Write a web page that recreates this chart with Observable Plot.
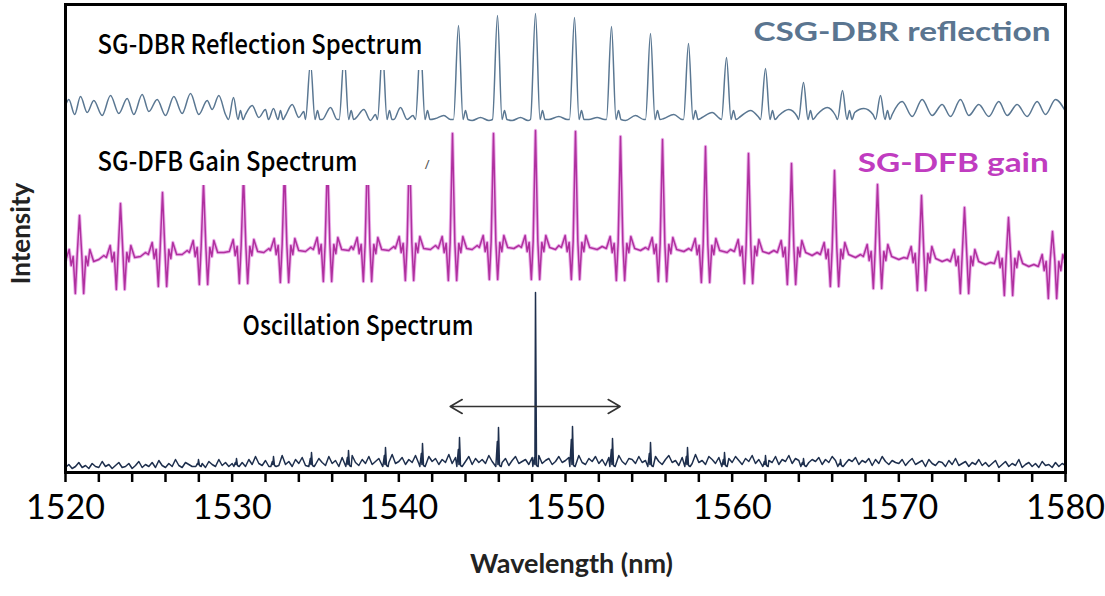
<!DOCTYPE html>
<html><head><meta charset="utf-8">
<script src="https://cdn.jsdelivr.net/npm/d3@7"></script>
<script src="https://cdn.jsdelivr.net/npm/@observablehq/plot@0.6"></script>
<style>body{margin:0;background:#fff}</style>
</head><body><div id="chart"></div>
<script>
// ---------- axis ----------
const xTickLabels = [1520, 1530, 1540, 1550, 1560, 1570, 1580];
const xMinorTicks = [1520,1522,1524,1526,1528,1530,1532,1534,1536,1538,1540,1542,1544,1546,1548,1550,1552,1554,1556,1558,1560,1562,1564,1566,1568,1570,1572,1574,1576,1578,1580];

// ---------- CSG-DBR reflection (arbitrary intensity units, offset trace) ----------
const dbrPeakNm = [1530.08,1532.48,1534.70,1536.72,1539.02,1541.30,1543.58,1545.92,1548.20,1550.54,1552.76,1555.10,1557.38,1559.66,1562.00,1564.28,1566.62,1568.90];
const dbrPeakI  = [374,363,409,416,421,426,446,456,458,454,445,438,428,414,403,389,381,376];
const dbrFoot = 352, dbrShoulder = 361;
const dbrFloorNm = [1520.0,1520.2,1520.55,1520.9,1521.3,1521.7,1522.2,1522.7,1523.2,1523.7,1524.1,1524.6,1525.0,1525.5,1526.0,1526.5,1527.0,1527.5,1528.0,1528.5,1528.8,1529.2,1529.6,
  1530.8,1531.2,1531.6,1532.0,1533.2,1533.6,1534.0,1534.3,1535.4,1535.9,1536.3,1537.4,1537.9,1538.3,1538.6,1539.7,1540.1,1540.5,1540.85,
  1542.2,1542.7,1543.1,1544.4,1544.9,1545.4,1546.8,1547.3,1547.75,1549.0,1549.6,1550.1,1551.4,1551.9,1552.35,1553.6,1554.2,1554.7,1555.9,1556.5,1557.0,
  1558.2,1558.8,1559.25,1560.5,1561.1,1561.6,1562.8,1563.4,1563.9,1565.1,1565.7,1566.2,1567.35,1567.9,1568.45,
  1569.6,1570.2,1570.8,1571.4,1572.0,1572.6,1573.1,1573.7,1574.2,1574.8,1575.4,1576.0,1576.5,1577.1,1577.7,1578.3,1578.8,1579.4,1580.0];
const dbrFloorI = [366,372,357,375,359,371,356,376,358,373,357,377,360,372,356,375,358,378,357,371,362,376,357,
  357,366,354,362,356,367,354,360,352,364,352,353,362,351,357,352,364,352,356,
  353,356,352,351,354,351,351,354,351,352,355,352,352,354,352,351,356,352,353,357,352,
  354,359,353,355,361,354,356,362,355,357,364,356,359,363,357,
  357,370,355,372,356,367,355,372,356,367,355,370,356,367,355,370,357,372,360];

// ---------- SG-DFB gain ----------
const dfbPeakNm   = [1520.84,1523.30,1525.82,1528.28,1530.68,1533.14,1535.72,1538.12,1540.64,1543.22,1545.68,1548.20,1550.60,1553.30,1555.82,1558.40,1560.98,1563.56,1566.14,1568.72,1571.36,1573.94,1576.58,1579.22];
const dfbPeakTop  = [256,268,279,289,297,305,313,321,328,338,338,341,340,335,332,325,318,308,301,287,276,264,254,240];
const dfbPeakBase = [210,214,217,219,220,221,222,222,223,223,224,224,224,223,222,221,220,219,217,215,213,210,208,205];
const dfbShapeDx = [-0.85,-0.62,-0.5,-0.38,-0.25,-0.14,0,0.14,0.25,0.38,0.5,0.62,0.85];
const dfbShapeDy = [0,12,-4,5,-32,6,null,6,-32,5,-4,12,0];
const dfbFloorNm = [1522.0,1522.3,1524.5,1524.8,1527.0,1527.3,1529.5,1529.8,1531.9,1532.2,1534.4,1534.7,1537.0,1537.15,1539.4,1539.7,1541.9,1542.2,1544.4,1544.7,1546.9,1547.2,1549.4,1549.6,1551.9,1552.2,1554.5,1554.8,1557.1,1557.4,1559.7,1559.9,1562.2,1562.5,1564.8,1565.1,1567.4,1567.7,1570.0,1570.3,1572.6,1572.9,1575.2,1575.5,1577.8,1578.1];
const dfbFloorI  = [212,216,215,219,217,221,219,222,219,223,220,224,221,225,221,225,222,226,222,226,223,226,222,226,222,225,221,224,220,223,219,222,218,221,216,219,214,217,212,214,210,212,207,209,205,207];

// ---------- Oscillation spectrum ----------
const oscPeakNm = [1527.98,1530.26,1532.48,1534.76,1536.98,1539.20,1541.42,1543.64,1545.98,1548.20,1550.42,1552.82,1555.10,1557.32,1559.54,1562.00,1564.28,1566.50];
const oscPeakI  = [12,13,15,19,21,24,28,34,44,179,45,33,29,24,19,16,13,12];
const oscShoulderI = [8,9,10,13,14,16,18,22,30,14,32,22,18,15,12,10,9,8];
const oscBase = 5;
const oscNoiseStart = 1520, oscNoiseStep = 0.2;
const oscNoiseI = [
  4,7,3,5,9,4,6,3,8,5,4,10,5,7,3,6,9,4,5,8,3,6,10,4,7,
  5,9,4,11,6,4,8,5,12,6,4,9,7,5,13,6,8,4,10,7,5,12,6,9,5,
  8,14,6,9,5,12,7,15,8,6,11,5,13,9,6,16,7,10,5,12,8,14,6,9,11,
  7,13,9,6,15,8,11,5,14,10,7,16,9,6,12,8,15,7,10,13,6,11,9,17,8,
  10,14,7,12,9,16,8,11,6,15,10,13,7,12,9,17,8,14,6,11,10,15,7,13,9,
  12,8,16,10,7,14,9,13,6,11,15,8,10,12,7,14,9,16,8,11,13,7,10,15,9,
  11,14,8,12,16,9,7,13,10,15,8,12,6,14,11,9,16,10,7,13,12,8,15,9,11,
  13,8,15,10,7,12,16,9,11,6,14,10,13,8,17,9,11,7,15,12,8,14,10,6,13,
  9,15,11,7,13,10,16,8,12,6,14,11,9,15,7,12,10,16,8,13,11,7,14,9,12,
  10,14,7,12,9,15,11,6,13,8,12,10,14,7,11,9,13,6,12,8,15,10,7,11,9,
  8,12,6,10,13,7,9,11,5,12,8,6,10,9,5,11,7,13,6,8,10,5,9,7,12,
  6,9,5,8,11,4,7,10,5,8,6,12,4,7,9,5,8,4,10,6,7,4,9,5,8,
  6];

// ---------- annotations ----------
const arrowCenterNm = 1548.2, arrowEndsNm = [1543.08, 1553.28], arrowI = 65;

// ---------- build tables ----------
function withPeaks(floorNm, floorI, peakNm, verts, lo, hi) {
  const pts = [];
  floorNm.forEach((nm, i) => {
    if (!peakNm.some(c => nm > c - lo && nm < c + hi)) pts.push({nm, v: floorI[i]});
  });
  peakNm.forEach((c, i) => verts(c, i).forEach(([nm, v]) => pts.push({nm, v})));
  return pts.sort((a, b) => a.nm - b.nm);
}
const dbr = withPeaks(dbrFloorNm, dbrFloorI, dbrPeakNm, (c, i) => [
  [c - 0.3, dbrFoot], [c, dbrPeakI[i]], [c + 0.27, dbrFoot], [c + 0.42, dbrShoulder], [c + 0.57, dbrFoot]
], 0.36, 0.66);
const dfb = withPeaks(dfbFloorNm, dfbFloorI, dfbPeakNm, (c, i) =>
  dfbShapeDx.map((dx, k) => [c + dx, dfbShapeDy[k] === null ? dfbPeakTop[i] : dfbPeakBase[i] + dfbShapeDy[k]])
, 0.9, 0.9);
const oscNoiseNm = oscNoiseI.map((_, i) => oscNoiseStart + i * oscNoiseStep);
const osc = withPeaks(oscNoiseNm, oscNoiseI, oscPeakNm, (c, i) => [
  [c - 0.16, oscBase], [c - 0.07, oscShoulderI[i]], [c - 0.035, oscBase + 2], [c, oscPeakI[i]], [c + 0.06, oscBase + 1], [c + 0.16, oscBase]
], 0.2, 0.2);

const labelFont = "'Noto Sans CJK JP', 'Noto Sans', sans-serif";
const plot = Plot.plot({
  width: 1105, height: 596,
  marginLeft: 65, marginRight: 40, marginTop: 4, marginBottom: 124,
  x: {domain: [1520, 1580], label: null},
  y: {domain: [-1, 467], axis: null, label: null},
  style: {background: "white"},
  marks: [
    Plot.line(dbr, {x: "nm", y: "v", stroke: "#5a7792", strokeWidth: 1.5, curve: "monotone-x", clip: true}),
    Plot.line(dfb, {x: "nm", y: "v", stroke: "#ebb0ea", strokeWidth: 3.4, clip: true}),
    Plot.line(dfb, {x: "nm", y: "v", stroke: "#b0309f", strokeWidth: 1.5, clip: true}),
    Plot.line(osc, {x: "nm", y: "v", stroke: "#1e2f4d", strokeWidth: 1.5, clip: true}),
    Plot.rect([0], {x1: 1520, x2: 1541.6, y1: 401, y2: 451, fill: "white"}),
    Plot.rect([0], {x1: 1520.6, x2: 1541.36, y1: 286, y2: 333, fill: "white"}),
    Plot.arrow(arrowEndsNm, {x1: arrowCenterNm, y1: arrowI, x2: d => d, y2: arrowI, stroke: "#333", strokeWidth: 1.6, headLength: 13}),
    Plot.text(["SG-DBR Reflection Spectrum"], {x: 1521.92, y: 426, textAnchor: "start", fontSize: 27, fontWeight: 500, fontFamily: labelFont, fill: "#000"}),
    Plot.text(["SG-DFB Gain Spectrum"], {x: 1521.92, y: 309, textAnchor: "start", fontSize: 27, fontWeight: 500, fontFamily: labelFont, fill: "#000"}),
    Plot.text(["Oscillation Spectrum"], {x: 1530.62, y: 145, textAnchor: "start", fontSize: 27, fontWeight: 500, fontFamily: labelFont, fill: "#000"}),
    Plot.text(["/"], {x: 1541.7, y: 307, fontSize: 13, fill: "#555"}),
    Plot.text(["CSG-DBR reflection"], {x: 1579.1, y: 439, textAnchor: "end", fontSize: 27, fontWeight: "bold", fontFamily: "Lato", fill: "#5a7590"}),
    Plot.text(["SG-DFB gain"], {x: 1579.0, y: 308, textAnchor: "end", fontSize: 27, fontWeight: "bold", fontFamily: "Lato", fill: "#c03cc0"}),
    Plot.ruleX(xMinorTicks, {y1: -1, y2: -11, stroke: "#000", strokeWidth: 2.5}),
    Plot.axisX(xTickLabels, {tickSize: 0, tickPadding: 22, fontSize: 34, fontFamily: "Lato", tickFormat: d => String(d), label: null}),
    Plot.text(["Wavelength (nm)"], {frameAnchor: "bottom", dx: 6, dy: 100, fontSize: 27, fontWeight: "bold", fontFamily: "Lato", fill: "#222"}),
    Plot.text(["Intensity"], {x: 1517.4, y: 238, rotate: -90, fontSize: 26, fontWeight: "bold", fontFamily: "Lato", fill: "#222"}),
    Plot.frame({stroke: "#000", strokeWidth: 3})
  ]
});
document.getElementById("chart").appendChild(plot);

const fitWidths = {"SG-DBR Reflection Spectrum": 325, "SG-DFB Gain Spectrum": 260, "Oscillation Spectrum": 231, "CSG-DBR reflection": 297, "SG-DFB gain": 191};
d3.select(plot).selectAll("text").each(function () {
  const w = fitWidths[this.textContent];
  if (w) { this.setAttribute("textLength", w); this.setAttribute("lengthAdjust", "spacingAndGlyphs"); }
});
</script></body></html>
